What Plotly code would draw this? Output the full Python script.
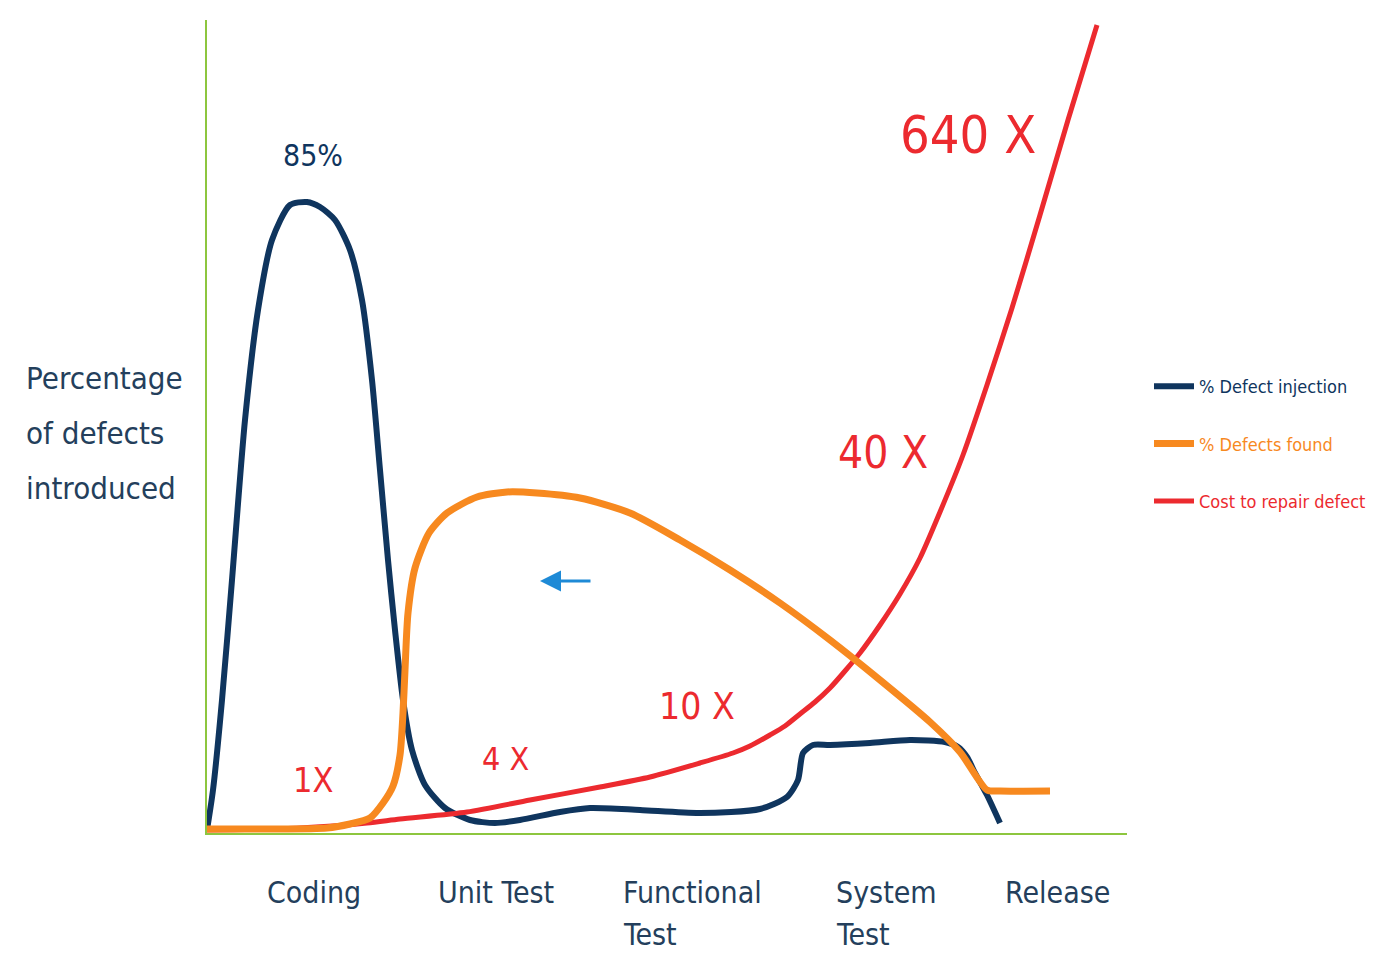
import plotly.graph_objects as go

# ---- data (x: progress along lifecycle, y: relative level) ----
stage_lines = [["Coding"], ["Unit Test"], ["Functional", "Test"], ["System", "Test"], ["Release"]]
stage_pos = [107, 289, 415, 628, 850]
stage_anchor = ["center", "center", "left", "left", "center"]

inj_x = [0, 6, 15, 25, 38, 51, 65, 83, 100, 113, 128, 143, 155, 165, 173, 181, 188, 196, 205, 218, 238, 263, 288, 313, 353, 383, 433, 493, 553, 580, 591, 596, 606, 623, 663, 703, 738, 751, 760, 768, 780, 793]
inj_y = [3, 43, 133, 253, 413, 523, 593, 628, 631, 626, 613, 583, 533, 453, 363, 273, 203, 133, 83, 48, 25, 13, 10, 13, 21, 25, 23, 20, 24, 36, 53, 80, 88, 88, 90, 93, 91, 86, 76, 60, 38, 10]

found_x = [0, 60, 120, 143, 163, 176, 186, 193, 196, 198, 201, 208, 222, 240, 270, 300, 330, 373, 423, 473, 523, 573, 623, 673, 723, 753, 780, 793, 843]
found_y = [4, 4, 5, 9, 15, 30, 47, 78, 120, 163, 220, 265, 300, 320, 336, 341, 340, 335, 320, 293, 263, 230, 193, 153, 111, 81, 43, 42, 42]

cost_x = [0, 93, 160, 193, 260, 323, 393, 443, 493, 526, 543, 563, 578, 593, 608, 623, 638, 653, 673, 693, 713, 733, 756, 780, 805, 833, 861, 890]
cost_y = [3, 5, 10, 14, 21, 33, 46, 56, 70, 80, 87, 98, 107, 119, 131, 145, 162, 180, 208, 239, 275, 321, 378, 448, 525, 618, 713, 808]

cost_labels = ["1X", "4 X", "10 X", "40 X", "640 X"]
cost_label_x = [106, 298, 490, 676, 761]
cost_label_y = [53, 74, 127, 381, 698]
cost_label_size = [34, 32, 37, 44, 52]

peak_label = "85%"
y_title_lines = ["Percentage", "of defects", "introduced"]

NAVY = "#0f355e"
ORANGE = "#f7891f"
RED = "#ec2a2f"
GREEN = "#8dc63f"
TEXT = "#243f5c"
FONT = "DejaVu Sans Condensed, Liberation Sans Narrow, Roboto, sans-serif"

# page body has an 8px margin; figure sized to fit the 1386x964 window
W, H = 1370, 948
ML, MT, PW, PH = 199, 12, 920, 813

fig = go.Figure()
fig.add_trace(go.Scatter(
    x=inj_x, y=inj_y, mode="lines", name="% Defect injection",
    line=dict(color=NAVY, width=6, shape="spline", smoothing=0.7),
    legendgroup="a", legendrank=1))
fig.add_trace(go.Scatter(
    x=cost_x, y=cost_y, mode="lines",
    name='<span style="color:%s">Cost to repair defect</span>' % RED,
    line=dict(color=RED, width=5, shape="spline", smoothing=0.7),
    legendgroup="c", legendrank=3))
fig.add_trace(go.Scatter(
    x=found_x, y=found_y, mode="lines",
    name='<span style="color:%s">%% Defects found</span>' % ORANGE,
    line=dict(color=ORANGE, width=7, shape="spline", smoothing=0.7),
    legendgroup="b", legendrank=2))

annotations = []
for t, x, y, s in zip(cost_labels, cost_label_x, cost_label_y, cost_label_size):
    annotations.append(dict(x=x, y=y, xref="x", yref="y", text=t, showarrow=False,
                            font=dict(family=FONT, size=s, color=RED)))
annotations.append(dict(x=106, y=678, xref="x", yref="y", text=peak_label, showarrow=False,
                        font=dict(family=FONT, size=30, color=NAVY)))
# y-axis title, left aligned, three lines
for i, line in enumerate(y_title_lines):
    py = 378 + 55 * i
    annotations.append(dict(x=(24 - 207) / PW, y=(833 - py) / PH, xref="paper", yref="paper",
                            text=line, showarrow=False, xanchor="left", yanchor="middle",
                            font=dict(family=FONT, size=31, color=TEXT)))
# category labels under the axis
for lines, pos, anc in zip(stage_lines, stage_pos, stage_anchor):
    for j, line in enumerate(lines):
        py = 893 + 41 * j
        annotations.append(dict(x=pos, y=(833 - py) / PH, xref="x", yref="paper",
                                text=line, showarrow=False, xanchor=anc, yanchor="middle",
                                borderpad=0,
                                font=dict(family=FONT, size=30, color=TEXT)))
# blue arrow
annotations.append(dict(x=333, y=252, ax=385, ay=252, xref="x", yref="y",
                        axref="x", ayref="y", text="", showarrow=True,
                        arrowhead=2, arrowsize=1.4, arrowwidth=3, arrowcolor="#1e8ad6"))

fig.update_layout(
    width=W, height=H, autosize=False,
    margin=dict(l=ML, r=W - ML - PW, t=MT, b=H - MT - PH, autoexpand=False),
    paper_bgcolor="white", plot_bgcolor="white",
    annotations=annotations,
    showlegend=True,
    legend=dict(x=(1149 - 207) / PW, y=(833 - 368) / PH, xanchor="left", yanchor="top",
                font=dict(family=FONT, size=18, color=NAVY), itemwidth=40,
                tracegroupgap=31, bgcolor="rgba(0,0,0,0)"),
    xaxis=dict(range=[0, 920], showgrid=False, zeroline=False, showline=True,
               linecolor=GREEN, linewidth=2, showticklabels=False, ticks="",
               automargin=False),
    yaxis=dict(range=[0, 813], showgrid=False, zeroline=False, showline=True,
               linecolor=GREEN, linewidth=2, showticklabels=False, ticks="",
               automargin=False),
)

fig.write_html("out.html")
